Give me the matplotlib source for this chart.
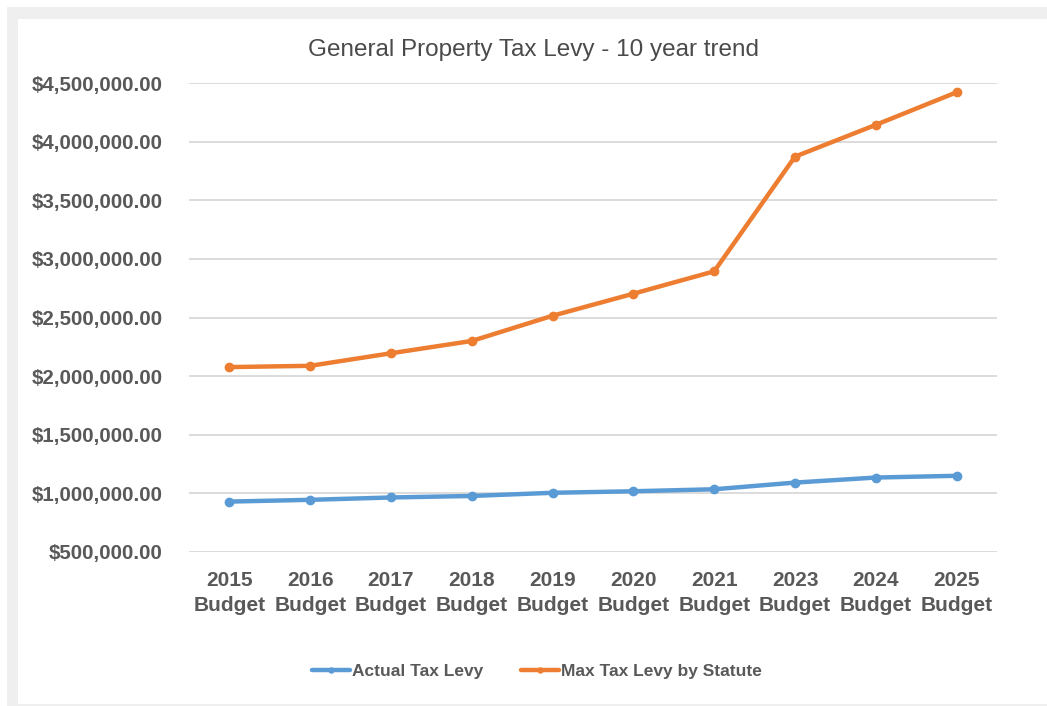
import matplotlib

matplotlib.use('Agg')
import matplotlib.pyplot as plt
from matplotlib.patches import Rectangle
from matplotlib.ticker import FuncFormatter, MultipleLocator
import numpy as np

years = ['2015', '2016', '2017', '2018', '2019', '2020', '2021', '2023', '2024', '2025']
categories = [f'{y}\nBudget' for y in years]
actual_levy = [930000, 945000, 965000, 978000, 1005000, 1018000, 1035000, 1092000, 1135000, 1150000]
max_levy = [2077000, 2088000, 2195000, 2300000, 2515000, 2703000, 2894000, 3872000, 4143000, 4421000]

TEXT = '#595959'
BLUE = '#5B9BD5'
ORANGE = '#ED7D31'

plt.rcParams['font.family'] = ['Liberation Sans', 'DejaVu Sans']

fig = plt.figure(figsize=(10.47, 7.06), dpi=100)
W, H = 1047, 706

# light grey frame behind the white chart area
fig.add_artist(Rectangle((7 / W, 0), 1 - 7 / W, 1 - 7 / H, transform=fig.transFigure,
                         facecolor='#efefef', edgecolor='none', zorder=-2))
fig.add_artist(Rectangle((18 / W, 2 / H), 1 - 18 / W, 1 - 21 / H, transform=fig.transFigure,
                         facecolor='white', edgecolor='none', zorder=-1))

ax = fig.add_axes([189 / W, 1 - 552 / H, (997 - 189) / W, (552 - 83) / H])
ax.set_facecolor('none')

x = np.arange(len(categories))
ax.plot(x, actual_levy, color=BLUE, lw=3.2, marker='o', ms=6, label='Actual Tax Levy',
        solid_capstyle='round', solid_joinstyle='round', zorder=3)
ax.plot(x, max_levy, color=ORANGE, lw=3.2, marker='o', ms=6, label='Max Tax Levy by Statute',
        solid_capstyle='round', solid_joinstyle='round', zorder=3)

ax.set_xlim(-0.5, len(categories) - 0.5)
ax.set_ylim(500000, 4500000)
ax.yaxis.set_major_locator(MultipleLocator(500000))
ax.yaxis.set_major_formatter(FuncFormatter(lambda v, _: f'${v:,.2f}'))
ax.grid(axis='y', color='#d9d9d9', lw=1.3)
ax.set_axisbelow(True)
for s in ax.spines.values():
    s.set_visible(False)
ax.tick_params(length=0)
ax.tick_params(axis='y', pad=19, labelsize=14.8, labelcolor=TEXT)
ax.tick_params(axis='x', pad=14, labelsize=15, labelcolor=TEXT)
ax.set_xticks(x)
ax.set_xticklabels(categories, linespacing=1.4)
for lab in ax.get_xticklabels() + ax.get_yticklabels():
    lab.set_fontweight('bold')

fig.text(534 / W, 1 - 50 / H, 'General Property Tax Levy - 10 year trend', ha='center', va='center',
         fontsize=17.5, color='#4a4a4a')

fig.legend(loc='center', bbox_to_anchor=(537 / W, 1 - 671 / H), ncol=2, frameon=False,
           prop={'weight': 'bold', 'size': 12.5}, labelcolor=TEXT, handlelength=2.2,
           handletextpad=0.1, columnspacing=2.2, markerscale=0.6)

fig.savefig('out.png', dpi=100)
